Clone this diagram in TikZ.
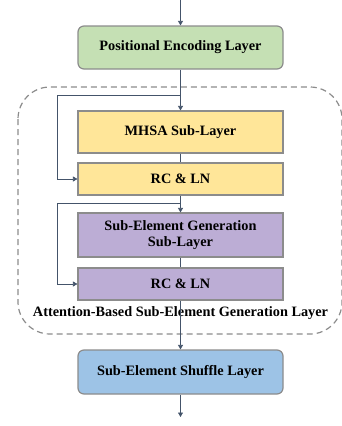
\documentclass[tikz,border=0pt]{standalone}
\usepackage{fontspec}
\setmainfont{Liberation Serif}
\usetikzlibrary{arrows.meta}
\definecolor{lnc}{HTML}{44546A}
\definecolor{bdr}{HTML}{8C8C8C}
\definecolor{gfill}{HTML}{C5E0B4}
\definecolor{yfill}{HTML}{FFE699}
\definecolor{pfill}{HTML}{BCADD5}
\definecolor{bfill}{HTML}{9DC3E6}
\definecolor{dsh}{HTML}{8C8C8C}
\tikzset{
  layer/.style={draw=bdr, line width=1.2pt, minimum width=205pt, align=center, font=\bfseries\fontsize{14.3}{16.5}\selectfont, inner sep=0pt},
  conn/.style={draw=lnc, line width=0.7pt},
  arr/.style={conn, -{Triangle[width=5pt,length=4.5pt]}},
}
\begin{document}
\begin{tikzpicture}[x=1pt,y=-1pt]
\useasboundingbox (0,0) rectangle (342,426);
% dashed container
\draw[dsh, line width=1.2pt, dash pattern=on 6pt off 4pt, rounded corners=32pt] (18,87) rectangle (342,334);
\node[layer, fill=gfill, rounded corners=6pt, minimum height=43pt] (pe) at (180.5,47.5) {Positional Encoding Layer};
\node[layer, fill=yfill, minimum height=42pt] (mhsa) at (180.5,132) {MHSA Sub-Layer};
\node[layer, fill=yfill, minimum height=32pt] (rc1) at (180.5,179) {RC \& LN};
\node[layer, fill=pfill, minimum height=44pt] (seg) at (180.5,235) {Sub-Element Generation\\Sub-Layer};
\node[layer, fill=pfill, minimum height=32pt] (rc2) at (180.5,284) {RC \& LN};
\node[layer, fill=bfill, rounded corners=6pt, minimum height=44pt] (sh) at (180.5,372) {Sub-Element Shuffle Layer};
\node[font=\bfseries\fontsize{14.3}{16.5}\selectfont, inner sep=0pt] (lbl) at (180.5,313) {Attention-Based Sub-Element Generation Layer};
\coordinate (in) at (180.5,0);
\coordinate (out) at (180.5,417);
\coordinate (s1) at (180.5,95);
\coordinate (s2) at (180.5,203);
\draw[arr] (in) -- (pe.north);
\draw[arr] (pe.south) -- (mhsa.north);
\draw[conn] (mhsa.south) -- (rc1.north);
\draw[arr] (rc1.south) -- (seg.north);
\draw[conn] (seg.south) -- (rc2.north);
\draw[arr] (rc2.south) -- (sh.north);
\draw[arr] (sh.south) -- (out);
\draw[arr] (s1) -- (57.5,95) |- (rc1.west);
\draw[arr] (s2) -- (57.5,203) |- (rc2.west);
\end{tikzpicture}
\end{document}
